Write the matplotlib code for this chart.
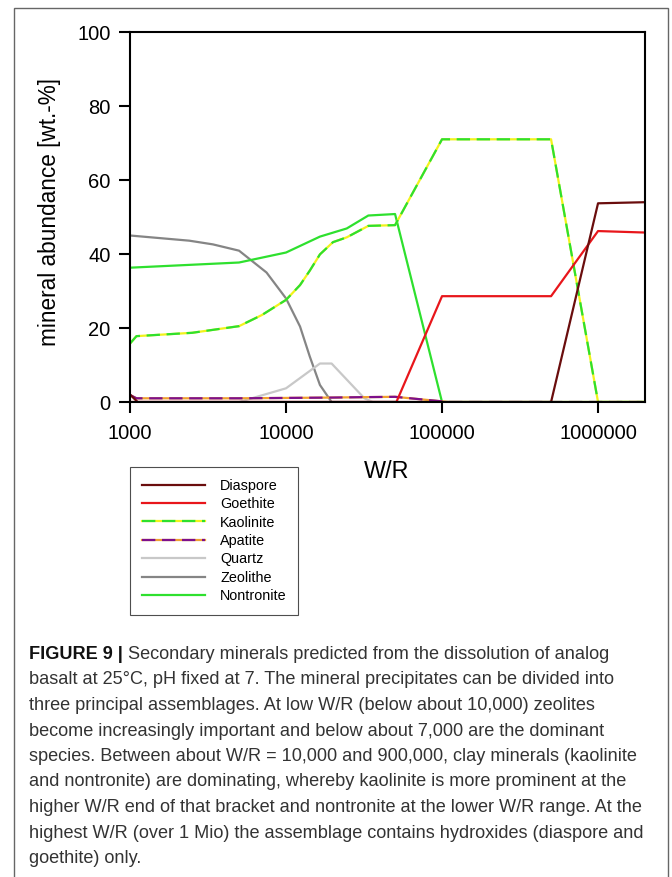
import matplotlib
matplotlib.use("Agg")
import matplotlib.pyplot as plt
from matplotlib.lines import Line2D
from matplotlib.patches import Rectangle
from matplotlib.ticker import FixedLocator, FixedFormatter, NullLocator

plt.rcParams['font.family'] = ['Liberation Sans', 'DejaVu Sans']

# PHREEQC-style output, abundance in wt.-% versus water/rock ratio
wr_diaspore = [1000, 1120, 500000, 1000000, 2000000]
diaspore = [2.0, 0.0, 0.0, 53.7, 54.0]

wr_goethite = [1000, 51000, 100000, 500000, 1000000, 2000000]
goethite = [0.0, 0.0, 28.6, 28.6, 46.2, 45.8]

wr_kaolinite = [1000, 1100, 2500, 5000, 7000, 10000, 12300, 14200, 16500,
                20000, 24500, 33700, 50000, 100000, 500000, 1000000, 2000000]
kaolinite = [15.8, 17.8, 18.7, 20.5, 23.5, 27.6, 31.6, 35.5, 39.9,
             43.2, 44.5, 47.6, 47.8, 71.0, 71.0, 0.0, 0.0]

wr_apatite = [1000, 1100, 5000, 10000, 20000, 30000, 50000, 110000, 2000000]
apatite = [1.9, 1.0, 1.0, 1.1, 1.2, 1.3, 1.4, 0.0, 0.0]

wr_quartz = [1000, 5000, 10000, 16500, 19600, 31800, 36000, 50000]
quartz = [0.0, 0.0, 3.7, 10.4, 10.4, 1.0, 0.0, 0.0]

wr_zeolithe = [1000, 2400, 3400, 5000, 7500, 10000, 12300, 14200, 16500, 19600, 50000]
zeolithe = [45.0, 43.6, 42.6, 40.9, 35.0, 28.0, 20.4, 12.3, 4.6, 0.0, 0.0]

wr_nontronite = [1000, 5000, 10000, 16500, 24500, 33700, 50000, 100000, 2000000]
nontronite = [36.3, 37.7, 40.4, 44.7, 46.9, 50.4, 50.8, 0.0, 0.0]

x_ticks = [1000, 10000, 100000, 1000000]
x_ticklabels = ['1000', '10000', '100000', '1000000']
y_ticks = [0, 20, 40, 60, 80, 100]

caption_bold = 'FIGURE 9 |'
caption_lines = [
    ' Secondary minerals predicted from the dissolution of analog',
    'basalt at 25°C, pH fixed at 7. The mineral precipitates can be divided into',
    'three principal assemblages. At low W/R (below about 10,000) zeolites',
    'become increasingly important and below about 7,000 are the dominant',
    'species. Between about W/R = 10,000 and 900,000, clay minerals (kaolinite',
    'and nontronite) are dominating, whereby kaolinite is more prominent at the',
    'higher W/R end of that bracket and nontronite at the lower W/R range. At the',
    'highest W/R (over 1 Mio) the assemblage contains hydroxides (diaspore and',
    'goethite) only.',
]

c_diaspore = '#6a0d0d'
c_goethite = '#e8161b'
c_green = '#2ee02e'
c_yellow = '#f2f21c'
c_purple = '#7d0f8c'
c_orange = '#f0a030'
c_quartz = '#c8c8c8'
c_zeolithe = '#858585'

W, H = 672, 877
fig = plt.figure(figsize=(W / 100, H / 100), dpi=100)
ax = fig.add_axes([130 / W, 1 - 402 / H, 515 / W, 370 / H])

lw = 1.6
dash = (6, 3)

ax.plot(wr_zeolithe, zeolithe, color=c_zeolithe, lw=lw)
ax.plot(wr_quartz, quartz, color=c_quartz, lw=lw)
ax.plot(wr_nontronite, nontronite, color=c_green, lw=lw)
ax.plot(wr_kaolinite, kaolinite, color=c_yellow, lw=lw)
ax.plot(wr_kaolinite, kaolinite, color=c_green, lw=lw, dashes=dash)
ax.plot(wr_apatite, apatite, color=c_orange, lw=lw)
ax.plot(wr_apatite, apatite, color=c_purple, lw=lw, dashes=dash)
ax.plot(wr_goethite, goethite, color=c_goethite, lw=lw)
ax.plot(wr_diaspore, diaspore, color=c_diaspore, lw=lw)

ax.set_xscale('log')
ax.set_xlim(1000, 2000000)
ax.set_ylim(0, 100)
ax.xaxis.set_major_locator(FixedLocator(x_ticks))
ax.xaxis.set_major_formatter(FixedFormatter(x_ticklabels))
ax.xaxis.set_minor_locator(NullLocator())
ax.set_yticks(y_ticks)
ax.tick_params(direction='out', length=8, width=1.5, labelsize=14.5)
ax.tick_params(axis='x', pad=8)
ax.tick_params(axis='y', pad=6)
for sp in ax.spines.values():
    sp.set_linewidth(1.5)

fig.text(50 / W, 1 - 212 / H, 'mineral abundance [wt.-%]', rotation=90,
         ha='center', va='center', fontsize=16.3)
fig.text(387 / W, 1 - 471 / H, 'W/R', ha='center', va='center', fontsize=16.8)

# legend with two-colour dashed handles
def two_tone(c1, c2):
    return (Line2D([], [], color=c2, lw=lw),
            Line2D([], [], color=c1, lw=lw, dashes=dash))

handles = [Line2D([], [], color=c_diaspore, lw=lw),
           Line2D([], [], color=c_goethite, lw=lw),
           two_tone(c_green, c_yellow),
           two_tone(c_purple, c_orange),
           Line2D([], [], color=c_quartz, lw=lw),
           Line2D([], [], color=c_zeolithe, lw=lw),
           Line2D([], [], color=c_green, lw=lw)]
labels = ['Diaspore', 'Goethite', 'Kaolinite', 'Apatite', 'Quartz', 'Zeolithe', 'Nontronite']
leg = fig.legend(handles, labels, loc='upper left',
                 bbox_to_anchor=(130 / W, 1 - 467 / H), borderaxespad=0,
                 fontsize=10.4, frameon=True, fancybox=False, edgecolor='#222222',
                 handlelength=4.4, handletextpad=1.05, labelspacing=0.31,
                 borderpad=0.8)
leg.get_frame().set_linewidth(0.8)

# outer panel frame
fig.patches.append(Rectangle((14 / W, -0.01), 654 / W, 1.01 - 8 / H,
                             transform=fig.transFigure, fill=False,
                             edgecolor='#666666', lw=1.0))

# caption, first words in bold
cap_fs = 13.1
x0 = 29 / W
y0 = 1 - 659 / H
step = 25.5 / H
bold = fig.text(x0, y0, caption_bold, fontsize=cap_fs, fontweight='bold',
                color='#111111', va='baseline')
fig.canvas.draw()
bb = bold.get_window_extent()
fig.text(bb.x1 / W, y0, caption_lines[0], fontsize=cap_fs, color='#333333', va='baseline')
for i, line in enumerate(caption_lines[1:], start=1):
    fig.text(x0, y0 - i * step, line, fontsize=cap_fs, color='#333333', va='baseline')

fig.savefig('out.png', dpi=100)
